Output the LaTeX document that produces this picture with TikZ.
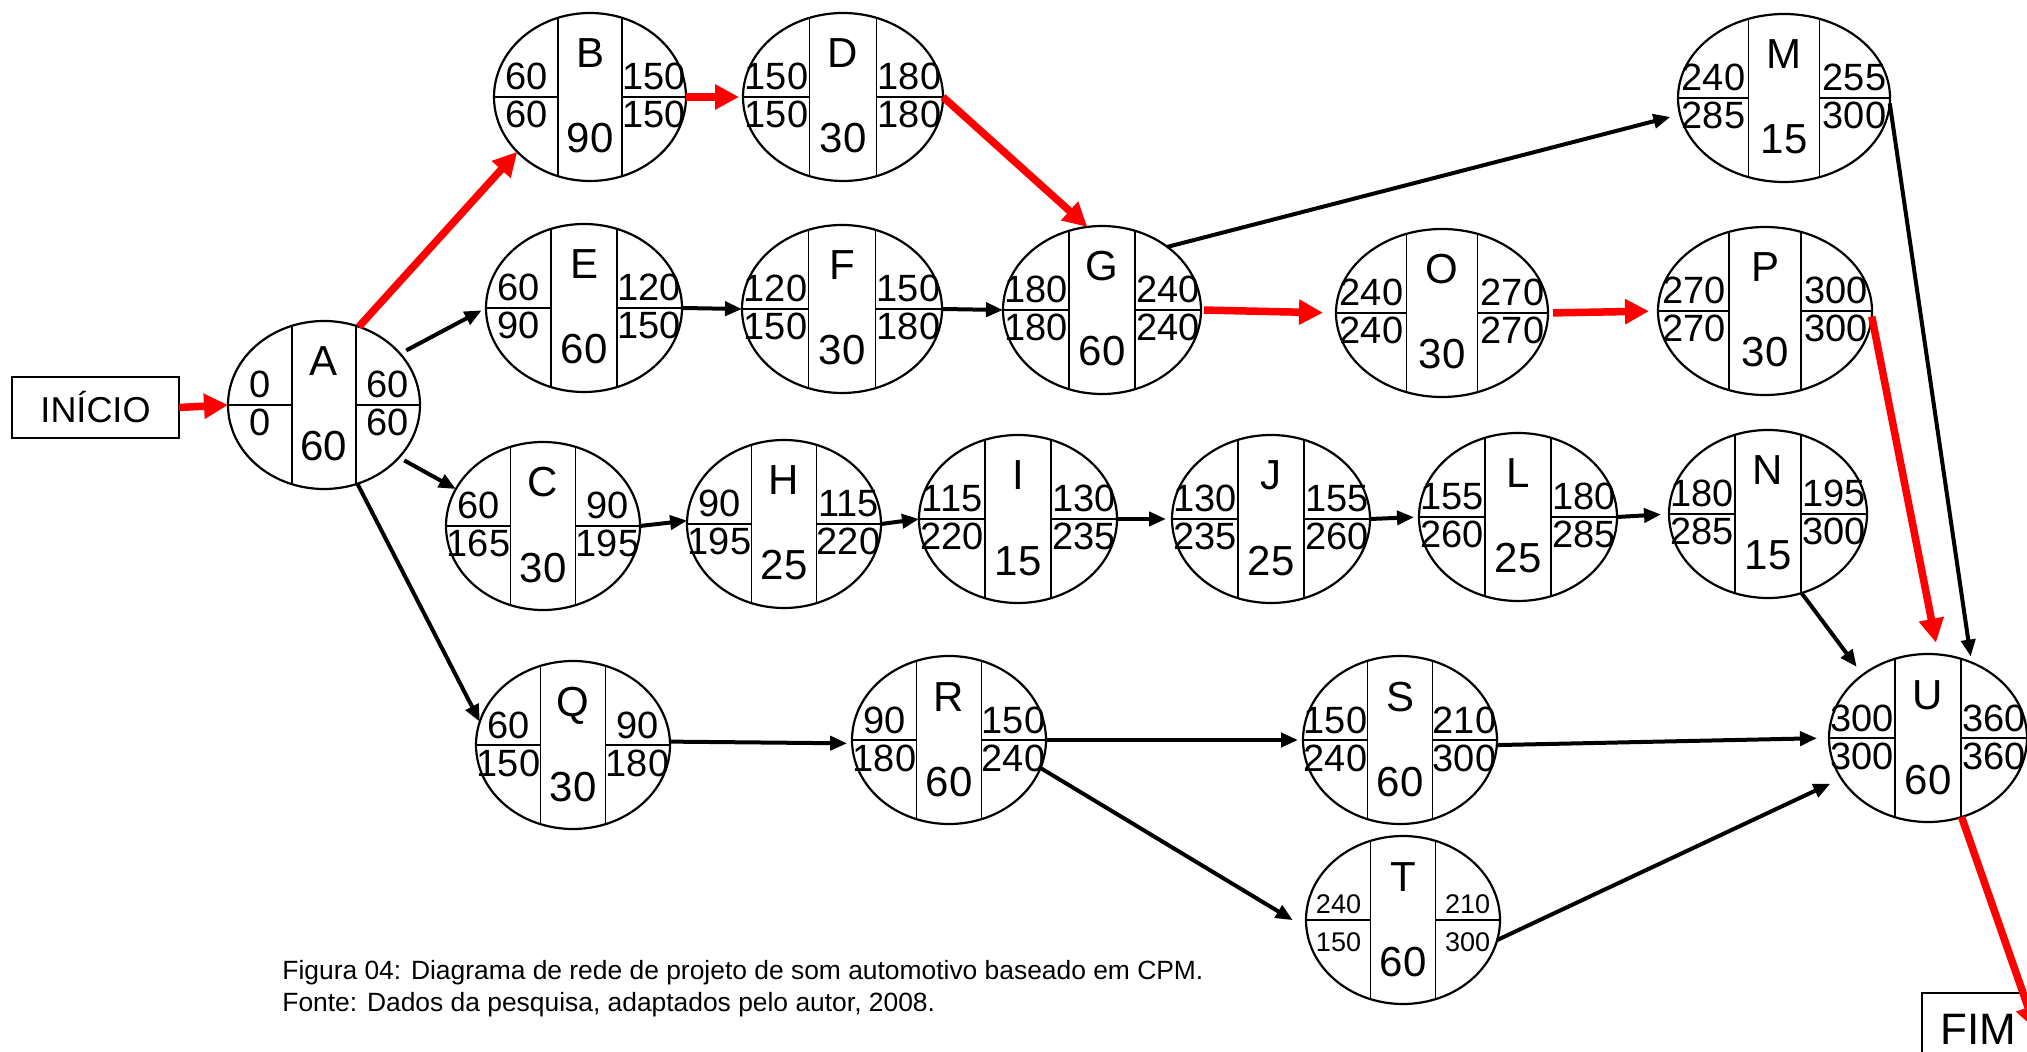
\documentclass[tikz,border=0pt]{standalone}
\usepackage{fontspec}
\setmainfont{Liberation Sans}
\usetikzlibrary{shapes.geometric,arrows.meta}
\tikzset{
  cpmell/.style={ellipse, draw, line width=1.1pt, inner sep=0pt, outer sep=0pt, minimum height=84pt, fill=white},
  divider/.style={line width=0.9pt},
  lett/.style={font=\fontsize{21}{21}\selectfont, anchor=base, inner sep=0pt},
  num/.style={font=\fontsize{19}{19}\selectfont, anchor=base, inner sep=0pt},
  blkarr/.style={draw=black, line width=2pt, -{Triangle[length=8.5pt,width=7pt]}},
  redarr/.style={draw=red, color=red, line width=3.75pt, -{Triangle[length=12pt,width=12pt]}},
  boxnode/.style={draw, line width=0.75pt, inner sep=0pt, outer sep=0pt}
}
\newcommand{\cpm}[9][97]{%
  \node[cpmell, minimum width=#1pt] (#2) at #3 {};
  \begin{scope}[shift={#3}]
    \pgfmathsetmacro{\cpmd}{0.335*#1}
    \pgfmathsetmacro{\cpmn}{0.665*#1}
    \draw[divider] (-\cpmd,-79) -- (-\cpmd,79) (\cpmd,-79) -- (\cpmd,79)
                   (-#1,0) -- (-\cpmd,0) (\cpmd,0) -- (#1,0);
    \node[lett] (#2-let) at (0,-29) {#4};
    \node[lett] (#2-dur) at (0,56) {#5};
    \node[num] (#2-es) at (-\cpmn,-7) {#6};
    \node[num] (#2-ls) at (-\cpmn,31) {#7};
    \node[num] (#2-ef) at (\cpmn,-7) {#8};
    \node[num] (#2-lf) at (\cpmn,31) {#9};
  \end{scope}}
\begin{document}
\begin{tikzpicture}[x=0.5pt,y=-0.5pt]
\useasboundingbox (0,0) rectangle (2027,1052);
\clip (0,0) rectangle (2027,1052);
\fill[white] (0,0) rectangle (2027,1052);

\cpm[96]{A}{(324,405)}{A}{60}{0}{0}{60}{60}
\cpm[96]{B}{(590,97)}{B}{90}{60}{60}{150}{150}
\cpm[100]{D}{(843,97)}{D}{30}{150}{150}{180}{180}
\cpm[106]{M}{(1784,98)}{M}{15}{240}{285}{255}{300}
\cpm[98]{E}{(584,308)}{E}{60}{60}{90}{120}{150}
\cpm[100]{F}{(842,309)}{F}{30}{120}{150}{150}{180}
\cpm[99]{G}{(1102,310)}{G}{60}{180}{180}{240}{240}
\cpm[106]{O}{(1442,313)}{O}{30}{240}{240}{270}{270}
\cpm[107]{P}{(1765,311)}{P}{30}{270}{270}{300}{300}
\cpm[97]{C}{(543,526)}{C}{30}{60}{165}{90}{195}
\cpm[97]{H}{(784,524)}{H}{25}{90}{195}{115}{220}
\cpm[99]{I}{(1018,519)}{I}{15}{115}{220}{130}{235}
\cpm[99]{J}{(1271,519)}{J}{25}{130}{235}{155}{260}
\cpm[99]{L}{(1518,517)}{L}{25}{155}{260}{180}{285}
\cpm[99]{N}{(1768,514)}{N}{15}{180}{285}{195}{300}
\cpm[97]{Q}{(573,745)}{Q}{30}{60}{150}{90}{180}
\cpm[97]{R}{(949,740)}{R}{60}{90}{180}{150}{240}
\cpm[97]{S}{(1400,740)}{S}{60}{150}{240}{210}{300}
\begin{scope}[num/.style={font=\fontsize{13.5}{13.5}\selectfont, anchor=base, inner sep=0pt}]
\cpm[97]{T}{(1403,920)}{T}{60}{240}{150}{210}{300}
\end{scope}
\cpm[99]{U}{(1928,738)}{U}{60}{300}{300}{360}{360}

\node[boxnode, minimum width=83.5pt, minimum height=30.5pt, font=\fontsize{18}{18}\selectfont] (INI) at (95.5,407.5) {INÍCIO};
\node[boxnode, minimum width=56pt, minimum height=36pt, font=\fontsize{22}{22}\selectfont] (FIM) at (1978,1029) {FIM};
\coordinate (fimend) at (2036,1030);

% critical path (red)
\draw[redarr] (INI.east) -- (A.west);
\draw[redarr] (A.66) -- (B.217);
\draw[redarr, shorten >=2pt] (B.east) -- (D.west);
\draw[redarr] (D.east) -- (G.100);
\draw[redarr, shorten <=1.5pt, shorten >=6.5pt] (G.east) -- (O.west);
\draw[redarr, shorten <=2.5pt, shorten >=4.5pt] (O.east) -- (P.west);
\draw[redarr, shorten >=6pt] (P.-3) -- (U.83);
\draw[redarr] (U.-67) -- (fimend);

% other connectors (black)
\draw[blkarr, shorten <=3.5pt, shorten >=2.5pt] (A.34) -- (E.west);
\draw[blkarr, shorten <=3pt] (A.-35) -- (C.157);
\draw[blkarr] (A.-67) -- (Q.166);
\draw[blkarr] (E.east) -- (F.west);
\draw[blkarr] (F.east) -- (G.west);
\draw[blkarr, shorten >=5pt] (G.44) -- (M.189);
\draw[blkarr] (C.east) -- (H.178);
\draw[blkarr] (H.east) -- (I.west);
\draw[blkarr, shorten >=3pt] (I.east) -- (J.west);
\draw[blkarr, shorten >=2.5pt] (J.east) -- (L.west);
\draw[blkarr, shorten >=4pt] (L.east) -- (N.west);
\draw[blkarr, shorten >=3pt] (M.-3) -- (U.60);
\draw[blkarr, shorten >=5pt] (N.-67) -- (U.136);
\draw[blkarr, shorten >=2.5pt] (Q.2) -- (R.182);
\draw[blkarr, shorten >=2.5pt] (R.east) -- (S.west);
\draw[blkarr, shorten >=8pt] (R.-17) -- (T.185);
\draw[blkarr, shorten >=6pt] (S.-3) -- (U.west);
\draw[blkarr, shorten >=6pt] (T.-12) -- (U.205);

% caption
\node[anchor=base west, inner sep=0pt, font=\fontsize{13.2}{16}\selectfont] (cap1) at (282,979) {Figura 04: Diagrama de rede de projeto de som automotivo baseado em CPM.};
\node[anchor=base west, inner sep=0pt, font=\fontsize{13.2}{16}\selectfont] (cap2) at (282,1011) {Fonte: Dados da pesquisa, adaptados pelo autor, 2008.};
\end{tikzpicture}
\end{document}
